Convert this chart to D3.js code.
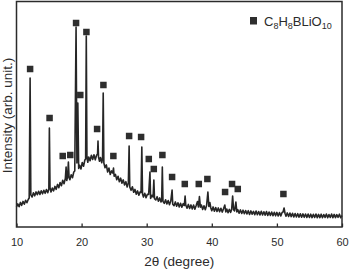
<!DOCTYPE html>
<html>
<head>
<meta charset="utf-8">
<script src="https://cdn.jsdelivr.net/npm/d3@7"></script>
<style>
  body { margin: 0; background: #fff; }
  text { font-family: "Liberation Sans", Arial, sans-serif; fill: #2b2b2b; }
</style>
</head>
<body>
<svg id="chart" width="350" height="270"></svg>
<script>
// XRD pattern, 2θ (degree) vs intensity (arb. unit.)
const pattern = [
  [10.0, 200], [10.2, 231], [10.4, 203], [10.6, 246], [10.8, 217], [11.0, 256], [11.2, 228], [11.4, 267],
  [11.6, 243], [11.8, 275], [11.95, 290], [12.09, 1490], [12.2, 322], [12.4, 300], [12.6, 343], [12.8, 312],
  [13.0, 351], [13.2, 323], [13.4, 357], [13.6, 326], [13.8, 363], [14.0, 332], [14.2, 368], [14.4, 337],
  [14.6, 374], [14.8, 343], [14.97, 380], [15.05, 990], [15.15, 392], [15.3, 350], [15.5, 389], [15.7, 361],
  [15.9, 406], [16.1, 377], [16.3, 426], [16.5, 393], [16.7, 445], [16.9, 413], [17.1, 467], [17.3, 433],
  [17.5, 485], [17.62, 600], [17.72, 465], [17.85, 505], [17.97, 650], [18.08, 490], [18.2, 473], [18.4, 522],
  [18.6, 493], [18.8, 550], [18.95, 560], [19.15, 2000], [19.28, 640], [19.42, 1240], [19.55, 585], [19.7, 617],
  [19.9, 580], [20.1, 645], [20.3, 607], [20.5, 670], [20.62, 680], [20.72, 1910], [20.82, 700], [20.95, 647],
  [21.1, 700], [21.3, 663], [21.5, 717], [21.7, 675], [21.9, 723], [22.1, 671], [22.3, 717], [22.45, 730],
  [22.52, 860], [22.6, 700], [22.75, 657], [22.9, 695], [23.1, 643], [23.22, 690], [23.32, 1340], [23.42, 640],
  [23.6, 593], [23.8, 621], [24.0, 550], [24.2, 590], [24.4, 525], [24.6, 561], [24.78, 540], [24.9, 590],
  [25.0, 507], [25.2, 526], [25.4, 473], [25.6, 507], [25.8, 453], [26.0, 488], [26.2, 437], [26.4, 471],
  [26.6, 420], [26.8, 453], [27.0, 400], [27.18, 440], [27.3, 810], [27.4, 400], [27.6, 367], [27.8, 403],
  [28.0, 347], [28.2, 376], [28.4, 327], [28.6, 361], [28.8, 317], [29.0, 353], [29.13, 345], [29.25, 800],
  [29.36, 330], [29.5, 299], [29.7, 337], [29.9, 293], [30.1, 326], [30.3, 325], [30.5, 550], [30.6, 285],
  [30.8, 317], [30.98, 300], [31.1, 470], [31.2, 283], [31.4, 270], [31.6, 303], [31.8, 257], [32.0, 291],
  [32.2, 250], [32.3, 270], [32.4, 600], [32.5, 257], [32.7, 236], [32.9, 273], [33.1, 231], [33.3, 264],
  [33.5, 223], [33.7, 260], [33.9, 370], [34.0, 227], [34.2, 213], [34.4, 251], [34.6, 207], [34.8, 243],
  [35.0, 201], [35.2, 237], [35.4, 198], [35.6, 233], [35.78, 215], [35.9, 310], [36.0, 220], [36.2, 188],
  [36.4, 226], [36.6, 185], [36.8, 221], [37.0, 181], [37.2, 219], [37.4, 178], [37.6, 215], [37.8, 255],
  [37.95, 200], [38.1, 305], [38.25, 198], [38.4, 219], [38.6, 175], [38.8, 213], [39.0, 172], [39.2, 215],
  [39.4, 350], [39.55, 205], [39.7, 245], [39.85, 190], [40.0, 163], [40.2, 201], [40.4, 158], [40.6, 194],
  [40.8, 155], [41.0, 191], [41.2, 153], [41.4, 187], [41.6, 149], [41.8, 183], [42.0, 220], [42.15, 150],
  [42.3, 180], [42.5, 143], [42.7, 176], [42.9, 147], [43.05, 175], [43.2, 310], [43.35, 172], [43.5, 160],
  [43.7, 250], [43.85, 150], [44.0, 173], [44.2, 137], [44.4, 171], [44.6, 135], [44.8, 168], [45.0, 133],
  [45.2, 165], [45.4, 130], [45.6, 163], [45.8, 125], [46.0, 161], [46.2, 128], [46.4, 156], [46.6, 123],
  [46.8, 159], [47.0, 122], [47.2, 155], [47.4, 121], [47.6, 157], [47.8, 120], [48.0, 152], [48.2, 119],
  [48.4, 154], [48.6, 116], [48.8, 150], [49.0, 115], [49.2, 149], [49.4, 113], [49.6, 147], [49.8, 112],
  [50.0, 146], [50.2, 110], [50.4, 144], [50.6, 111], [50.8, 145], [50.95, 150], [51.1, 190], [51.25, 135],
  [51.4, 107], [51.6, 141], [51.8, 105], [52.0, 139], [52.2, 104], [52.4, 137], [52.6, 101], [52.8, 135],
  [53.0, 100], [53.2, 133], [53.4, 99], [53.6, 132], [53.8, 98], [54.0, 131], [54.2, 97], [54.4, 130],
  [54.6, 96], [54.8, 129], [55.0, 95], [55.2, 128], [55.4, 94], [55.6, 127], [55.8, 95], [56.0, 129],
  [56.2, 93], [56.4, 126], [56.6, 94], [56.8, 128], [57.0, 92], [57.2, 125], [57.4, 96], [57.6, 129],
  [57.8, 93], [58.0, 124], [58.2, 95], [58.4, 130], [58.6, 92], [58.8, 126], [59.0, 94], [59.2, 123],
  [59.4, 97], [59.6, 128], [59.8, 93], [60.0, 115]
];

// C8H8BLiO10 reflection markers
const markers = [
  [12.09, 1580], [15.08, 1090], [17.1, 710], [18.26, 720], [19.15, 2040], [19.8, 1320],
  [20.74, 1950], [22.38, 980], [23.35, 1420], [24.88, 710], [27.3, 910], [29.14, 900],
  [30.32, 680], [31.09, 580], [32.41, 720], [33.9, 500], [35.85, 430], [38.0, 430],
  [39.32, 480], [42.04, 350], [43.11, 430], [43.99, 380], [51.0, 330]
];

const xTicks = [10, 20, 30, 40, 50, 60];
const xTitle = "2θ (degree)";
const yTitle = "Intensity (arb. unit.)";

const svg = d3.select("#chart");
const plotL = 16.5, plotR = 342, plotT = 1.5, plotB = 227;

const x = d3.scaleLinear().domain([10, 60]).range([plotL, plotR]);
const y = d3.scaleLinear().domain([0, 2255]).range([plotB, plotT]);

// pattern line
svg.append("path")
  .datum(pattern)
  .attr("d", d3.line().x(d => x(d[0])).y(d => y(d[1])))
  .style("fill", "none")
  .style("stroke", "#262626")
  .style("stroke-width", "1.6px")
  .style("stroke-linejoin", "round");

// markers
const size = 6.5;
svg.append("g")
  .selectAll("rect")
  .data(markers)
  .join("rect")
  .attr("x", d => x(d[0]) - size / 2)
  .attr("y", d => y(d[1]) - size / 2)
  .attr("width", size)
  .attr("height", size)
  .style("fill", "#2e2e2e");

// bottom axis, inward ticks
const axis = svg.append("g")
  .attr("transform", `translate(0,${plotB})`)
  .call(d3.axisBottom(x).tickValues(xTicks).tickSizeInner(-3.5).tickSizeOuter(0).tickPadding(11));
axis.select(".domain").remove();
axis.selectAll("line").style("stroke", "#2b2b2b").style("stroke-width", "1.3px");
axis.selectAll("text")
  .style("font-size", "11px")
  .style("font-family", "'Liberation Sans', Arial, sans-serif")
  .style("fill", "#2b2b2b");

// frame
svg.append("rect")
  .attr("x", plotL)
  .attr("y", plotT)
  .attr("width", plotR - plotL)
  .attr("height", plotB - plotT)
  .style("fill", "none")
  .style("stroke", "#2b2b2b")
  .style("stroke-width", "1.5px");

// axis titles
svg.append("text")
  .attr("x", (plotL + plotR) / 2)
  .attr("y", 266)
  .attr("text-anchor", "middle")
  .style("font-size", "13.5px")
  .text(xTitle);

svg.append("text")
  .attr("transform", "translate(12,115.5) rotate(-90)")
  .attr("text-anchor", "middle")
  .style("font-size", "13.5px")
  .text(yTitle);

// legend
const legend = svg.append("g");
legend.append("rect")
  .attr("x", 250)
  .attr("y", 17)
  .attr("width", 7)
  .attr("height", 7.5)
  .style("fill", "#2e2e2e");

const label = legend.append("text")
  .attr("x", 264)
  .attr("y", 25.5)
  .style("font-size", "13px");
const parts = [["C", 0], ["8", 1], ["H", 0], ["8", 1], ["BLiO", 0], ["10", 1]];
let shifted = false;
parts.forEach(([t, sub]) => {
  const span = label.append("tspan").text(t);
  if (sub) {
    span.style("font-size", "9px").attr("dy", shifted ? 0 : 3);
    shifted = true;
  } else {
    span.attr("dy", shifted ? -3 : 0);
    shifted = false;
  }
});
</script>
</body>
</html>
